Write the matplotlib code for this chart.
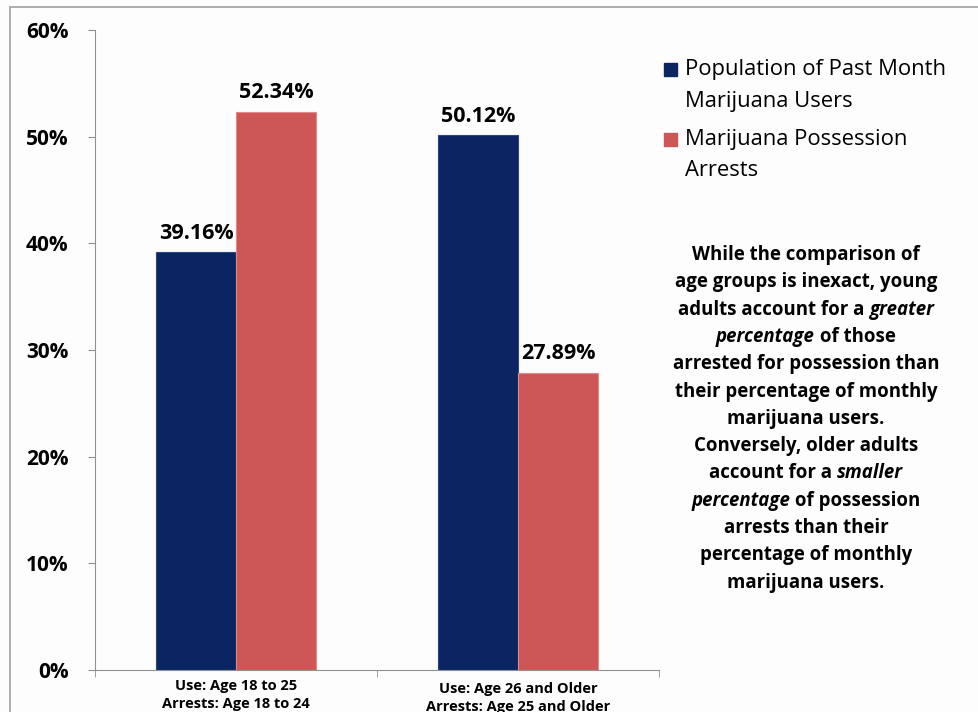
import matplotlib.pyplot as plt
from matplotlib.patches import Rectangle
import numpy as np

plt.rcParams['font.family'] = ['Open Sans', 'DejaVu Sans']

groups = [["Use: Age 18 to 25", "Arrests: Age 18 to 24"],
          ["Use: Age 26 and Older", "Arrests: Age 25 and Older"]]
users = [39.16, 50.12]
arrests = [52.34, 27.89]
series_names = [["Population of Past Month", "Marijuana Users"],
                ["Marijuana Possession", "Arrests"]]
yticks = [0, 10, 20, 30, 40, 50, 60]

# each note line is a list of (text, italic) pieces
note = [
    [("While the comparison of", False)],
    [("age groups is inexact, young", False)],
    [("adults account for a ", False), ("greater", True)],
    [("percentage", True), (" of those", False)],
    [("arrested for possession than", False)],
    [("their percentage of monthly", False)],
    [("marijuana users.", False)],
    [("Conversely, older adults", False)],
    [("account for a ", False), ("smaller", True)],
    [("percentage", True), (" of possession", False)],
    [("arrests than their", False)],
    [("percentage of monthly", False)],
    [("marijuana users.", False)],
]

navy = "#0b2563"
red = "#cd5757"
W, H = 979, 712

fig = plt.figure(figsize=(W / 100, H / 100), dpi=100, facecolor="#fdfdfd")
ax = fig.add_axes([95 / W, 1 - 670 / H, 564 / W, 640 / H], facecolor="#fdfdfd")

# outer frame
fig.patches.append(Rectangle((10 / W, -0.1), 1.1, 1 - 7 / H + 0.1,
                             transform=fig.transFigure, fill=False,
                             edgecolor="#a0a0a0", lw=1.2))

x = np.arange(len(groups))
bw = 0.284
b1 = ax.bar(x - bw / 2, users, bw, color=navy, edgecolor="#2a4585", lw=0.8)
b2 = ax.bar(x + bw / 2, arrests, bw, color=red, edgecolor="#e08a8a", lw=0.8)

for bars, vals in [(b1, users), (b2, arrests)]:
    for rect, v in zip(bars, vals):
        ax.annotate(f"{v:.2f}%", (rect.get_x() + rect.get_width() / 2, v),
                    xytext=(0, 6), textcoords="offset points",
                    ha="center", va="bottom", fontsize=15.5, fontweight="bold")

ax.set_xlim(-0.5, 1.5)
ax.set_ylim(0, 60)
ax.set_yticks(yticks)
ax.set_yticklabels([f"{t}%" for t in yticks], fontsize=15, fontweight="bold")
ax.tick_params(axis="y", length=5, color="#909090", pad=14)

ax.set_xticks(x)
ax.set_xticklabels([])
ax.tick_params(axis="x", length=0)
ax.set_xticks([-0.5, 0.5, 1.5], minor=True)
ax.tick_params(axis="x", which="minor", length=5, color="#909090")

# two-line category labels under each group
for i, (l1, l2) in enumerate(groups):
    base = 686 + 3 * i
    for j, s in enumerate([l1, l2]):
        fig.text(ax.transData.transform((i, 0))[0] / W,
                 1 - (base + 18 * j) / H, s, fontsize=10.5,
                 fontweight="bold", ha="center", va="center")

for s in ["top", "right"]:
    ax.spines[s].set_visible(False)
for s in ["left", "bottom"]:
    ax.spines[s].set_color("#909090")

# legend drawn by hand beside the plot
leg_y = [70, 140]
for (lines, col), yy in zip(zip(series_names, [navy, red]), leg_y):
    fig.patches.append(Rectangle((664 / W, 1 - (yy + 6) / H), 13 / W, 13 / H,
                                 transform=fig.transFigure, color=col))
    for j, s in enumerate(lines):
        fig.text(685 / W, 1 - (yy + 31 * j) / H, s, fontsize=15.8,
                 va="center", ha="left")

# explanatory note, centred line by line with mixed italics
fig.canvas.draw()
r = fig.canvas.get_renderer()
cx = 806
y0 = 255
step = 27.3
for i, line in enumerate(note):
    pieces = []
    for txt, it in line:
        t = fig.text(0, 1 - (y0 + i * step) / H, txt, fontsize=13.4,
                     fontweight="bold", style="italic" if it else "normal",
                     va="center", ha="left")
        pieces.append(t)
    widths = [p.get_window_extent(r).width for p in pieces]
    left = cx - sum(widths) / 2
    for p, w in zip(pieces, widths):
        p.set_x(left / W)
        left += w

fig.savefig("out.png", dpi=100, facecolor=fig.get_facecolor())
